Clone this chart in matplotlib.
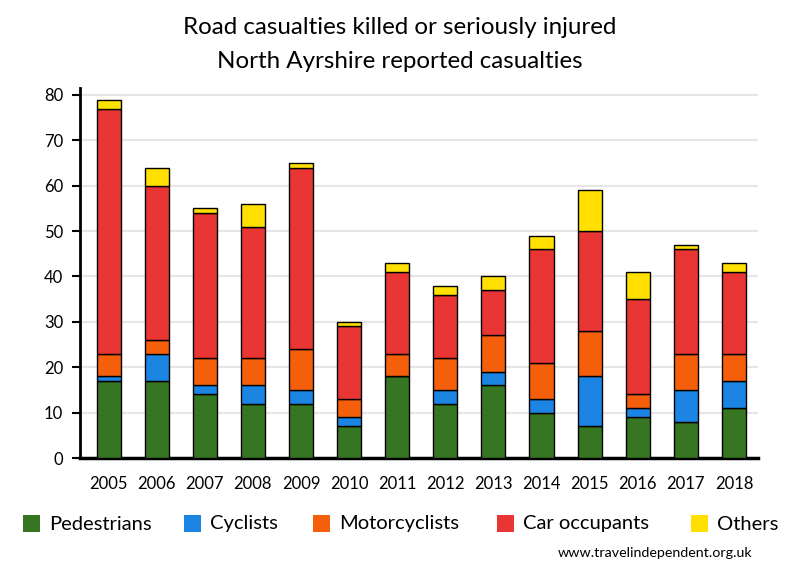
import matplotlib
matplotlib.use("Agg")
import matplotlib.pyplot as plt
from matplotlib.patches import Rectangle
import numpy as np

years = ["2005", "2006", "2007", "2008", "2009", "2010", "2011",
         "2012", "2013", "2014", "2015", "2016", "2017", "2018"]
pedestrians = [17, 17, 14, 12, 12, 7, 18, 12, 16, 10, 7, 9, 8, 11]
cyclists = [1, 6, 2, 4, 3, 2, 0, 3, 3, 3, 11, 2, 7, 6]
motorcyclists = [5, 3, 6, 6, 9, 4, 5, 7, 8, 8, 10, 3, 8, 6]
car_occupants = [54, 34, 32, 29, 40, 16, 18, 14, 10, 25, 22, 21, 23, 18]
others = [2, 4, 1, 5, 1, 1, 2, 2, 3, 3, 9, 6, 1, 2]

series_names = ["Pedestrians", "Cyclists", "Motorcyclists", "Car occupants", "Others"]
series_values = [pedestrians, cyclists, motorcyclists, car_occupants, others]
colors = ["#367522", "#1c84e2", "#f55f0c", "#e93533", "#ffe000"]
yticks = [0, 10, 20, 30, 40, 50, 60, 70, 80]

FONT = ["Lato", "DejaVu Sans"]
plt.rcParams["font.family"] = FONT

fig = plt.figure(figsize=(8, 5.8), dpi=100)
ax = fig.add_axes([0.100, 0.2103, 0.8475, 0.6377])

x = np.arange(len(years))
bottom = np.zeros(len(years))
for name, vals, c in zip(series_names, series_values, colors):
    v = np.array(vals, dtype=float)
    ax.bar(x, v, bottom=bottom, width=0.5, color=c, edgecolor="black",
           linewidth=1.0, zorder=3, label=name)
    bottom += v

ax.set_xlim(-0.593, len(years) - 1 + 0.5)
ax.set_ylim(0, 81.5)
ax.set_yticks(yticks)
ax.set_yticklabels([str(t) for t in yticks], fontsize=12)
ax.set_xticks(x)
ax.set_xticklabels(years, fontsize=12)
ax.tick_params(axis="x", length=0, pad=13)
ax.tick_params(axis="y", length=6, width=1.5, pad=6)
ax.yaxis.grid(True, color="#e6e6e6", linewidth=1.5, zorder=0)
ax.set_axisbelow(True)
for s in ["top", "right"]:
    ax.spines[s].set_visible(False)
ax.spines["left"].set_linewidth(2)
ax.spines["bottom"].set_linewidth(2.5)

fig.text(0.5, 1 - 28 / 580, "Road casualties killed or seriously injured",
         ha="center", va="center", fontsize=17.4)
fig.text(0.5, 1 - 61 / 580, "North Ayrshire reported casualties",
         ha="center", va="center", fontsize=17.4)

# legend
sq_x = [23, 184, 313, 497, 691]
for name, c, sx in zip(series_names, colors, sq_x):
    fig.patches.append(Rectangle((sx / 800, 1 - 532 / 580), 17 / 800, 17 / 580,
                                 transform=fig.transFigure, facecolor=c,
                                 edgecolor="none"))
    fig.text((sx + 26) / 800, 1 - 524 / 580, name, ha="left", va="center",
             fontsize=14.5)

fig.text(752 / 800, 1 - 553 / 580, "www.travelindependent.org.uk",
         ha="right", va="center", fontsize=10.3)

fig.savefig("out.png", dpi=100)
